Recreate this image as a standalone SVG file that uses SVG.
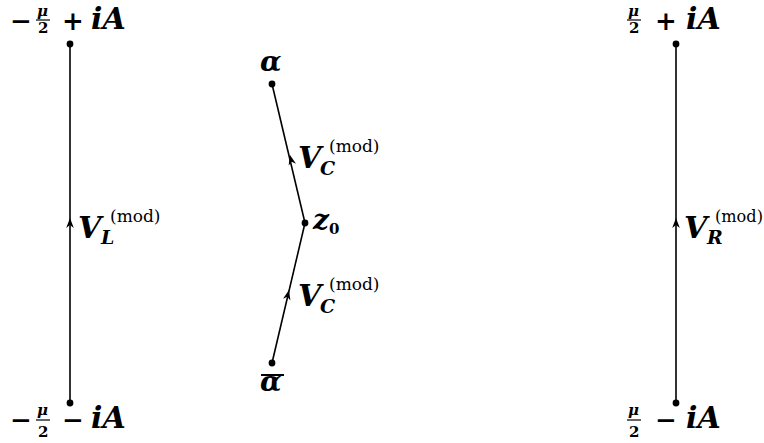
<svg xmlns="http://www.w3.org/2000/svg" width="764" height="443" viewBox="0 0 764 443">
<style>
.t{font-family:"DejaVu Serif","Liberation Serif",serif;font-weight:bold;font-style:italic;font-size:28px;fill:#000}
.ia{font-family:"DejaVu Serif","Liberation Serif",serif;font-weight:bold;font-style:italic;font-size:30px;fill:#000}
.v{font-family:"DejaVu Serif","Liberation Serif",serif;font-weight:bold;font-style:italic;font-size:30px;fill:#000}
.r{font-family:"DejaVu Serif","Liberation Serif",serif;font-style:normal;font-weight:bold;font-size:26px;fill:#000}
.s{font-family:"DejaVu Serif","Liberation Serif",serif;font-style:normal;font-weight:normal;font-size:17px;fill:#000}
.sub{font-family:"DejaVu Serif","Liberation Serif",serif;font-weight:bold;font-style:italic;font-size:19px;fill:#000}
.fr{font-family:"DejaVu Serif","Liberation Serif",serif;font-weight:bold;font-size:15px;fill:#000}
.l{stroke:#000;stroke-width:1.6;fill:none}
</style>
<defs>
<path id="ah" d="M0,0 L-10,-3.8 L-7,0 L-10,3.8 Z" fill="#000"/>
<circle id="dot" r="3.4" fill="#000"/>
</defs>
<g id="connectors">
<line class="l" x1="70" y1="44" x2="70" y2="403"/>
<line class="l" x1="676" y1="44" x2="676" y2="403"/>
<line class="l" x1="305" y1="223" x2="272" y2="84"/>
<line class="l" x1="272" y1="363" x2="305" y2="223"/>
<use href="#ah" transform="translate(70,218) rotate(-90)"/>
<use href="#ah" transform="translate(676,218) rotate(-90)"/>
<use href="#ah" transform="translate(290,155) rotate(-103.4)"/>
<use href="#ah" transform="translate(289,290) rotate(-76.7)"/>
</g>
<g id="node-top-left">
<use href="#dot" x="70" y="44"/>
<text class="r" x="10" y="30">−</text>
<text class="fr" x="37" y="16" font-style="italic">μ</text>
<line x1="36" y1="20" x2="50" y2="20" stroke="#000" stroke-width="1.2"/>
<text class="fr" x="38" y="33">2</text>
<text class="r" x="62" y="30">+</text>
<text class="ia" x="91" y="29">iA</text>
</g>
<g id="node-bottom-left">
<use href="#dot" x="70" y="403"/>
<text class="r" x="10" y="429">−</text>
<text class="fr" x="37" y="415" font-style="italic">μ</text>
<line x1="36" y1="420" x2="50" y2="420" stroke="#000" stroke-width="1.2"/>
<text class="fr" x="38" y="437">2</text>
<text class="r" x="62" y="429">−</text>
<text class="ia" x="91" y="428">iA</text>
</g>
<g id="node-top-right">
<use href="#dot" x="676" y="44"/>
<text class="fr" x="628" y="16" font-style="italic">μ</text>
<line x1="627" y1="20" x2="641" y2="20" stroke="#000" stroke-width="1.2"/>
<text class="fr" x="629" y="33">2</text>
<text class="r" x="655" y="30">+</text>
<text class="ia" x="686" y="29">iA</text>
</g>
<g id="node-bottom-right">
<use href="#dot" x="676" y="403"/>
<text class="fr" x="628" y="415" font-style="italic">μ</text>
<line x1="627" y1="420" x2="641" y2="420" stroke="#000" stroke-width="1.2"/>
<text class="fr" x="629" y="437">2</text>
<text class="r" x="655" y="429">−</text>
<text class="ia" x="686" y="428">iA</text>
</g>
<g id="node-alpha">
<use href="#dot" x="272" y="84"/>
<text class="t" x="260" y="71">α</text>
</g>
<g id="node-z0">
<use href="#dot" x="305" y="223"/>
<text class="t" x="313" y="229">z</text>
<text class="fr" x="329" y="234" font-size="17">0</text>
</g>
<g id="node-alphabar">
<use href="#dot" x="272" y="363"/>
<line x1="261" y1="375" x2="284" y2="375" stroke="#000" stroke-width="2"/>
<text class="t" x="260" y="391">α</text>
</g>
<g id="labels">
<text class="v" x="78" y="238">V</text>
<text class="sub" x="101" y="244">L</text>
<text class="s" x="110" y="222">(mod)</text>
<text class="v" x="298" y="168">V</text>
<text class="sub" x="320" y="175">C</text>
<text class="s" x="329" y="152">(mod)</text>
<text class="v" x="298" y="306">V</text>
<text class="sub" x="320" y="313">C</text>
<text class="s" x="329" y="290">(mod)</text>
<text class="v" x="684" y="238">V</text>
<text class="sub" x="707" y="244">R</text>
<text class="s" x="715" y="222" textLength="48" lengthAdjust="spacingAndGlyphs">(mod)</text>
</g>
</svg>
